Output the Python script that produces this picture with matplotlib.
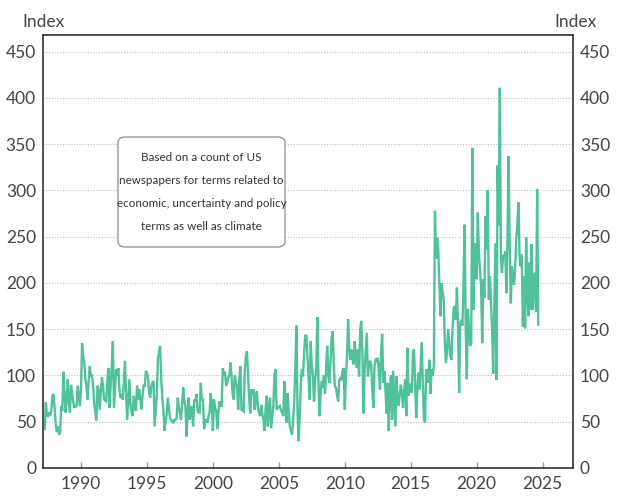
import numpy as np
import matplotlib
matplotlib.use("Agg")
import matplotlib.pyplot as plt
from matplotlib.patches import FancyBboxPatch

plt.rcParams['font.family'] = ['Lato', 'DejaVu Sans']

#### Monthly index values, April 1987 to September 2024 ####
start_year = 1987
start_month = 4

cpu_1987_1996 = [
    42, 71, 58, 55, 60, 57, 62, 78, 80,
    65, 48, 39, 45, 36, 38, 67, 62, 104, 80, 60, 75,
    96, 70, 60, 90, 80, 71, 65, 67, 67, 89, 78, 67,
    85, 135, 120, 114, 95, 89, 74, 95, 110, 100, 100, 89,
    70, 60, 51, 89, 85, 63, 80, 98, 90, 74, 73, 72,
    95, 108, 65, 90, 110, 137, 65, 85, 107, 100, 108, 85,
    76, 80, 74, 95, 116, 80, 52, 75, 96, 69, 60, 56,
    78, 71, 62, 89, 74, 85, 74, 63, 78, 90, 88, 105,
    103, 98, 80, 76, 89, 92, 94, 45, 62, 80, 119, 125,
    132, 96, 75, 63, 40, 50, 58, 76, 65, 54, 52, 50,
]
cpu_1997_2006 = [
    49, 52, 52, 54, 76, 66, 60, 52, 70, 87, 72, 67,
    34, 60, 76, 52, 62, 67, 45, 74, 72, 80, 63, 60,
    60, 92, 74, 74, 42, 52, 52, 49, 56, 60, 81, 70,
    40, 74, 65, 62, 42, 60, 72, 67, 67, 108, 100, 104,
    89, 93, 98, 100, 114, 99, 80, 74, 100, 92, 88, 63,
    95, 110, 63, 62, 61, 105, 120, 126, 100, 75, 59, 85,
    80, 85, 63, 75, 83, 65, 60, 56, 68, 58, 52, 40,
    65, 78, 45, 65, 76, 43, 55, 67, 100, 107, 63, 65,
    66, 67, 62, 60, 56, 94, 70, 49, 81, 60, 45, 40,
    36, 52, 72, 110, 154, 60, 29, 56, 90, 107, 99, 125,
]
cpu_2007_2016 = [
    143, 143, 120, 100, 74, 137, 110, 100, 72, 95, 107, 163,
    96, 56, 80, 94, 87, 100, 80, 108, 132, 100, 92, 116,
    140, 148, 110, 88, 87, 78, 72, 95, 97, 96, 105, 108,
    63, 100, 120, 161, 130, 117, 128, 118, 112, 137, 120, 108,
    128, 99, 150, 159, 125, 59, 105, 125, 146, 99, 110, 116,
    112, 85, 65, 110, 117, 116, 119, 105, 85, 125, 145, 92,
    105, 85, 59, 92, 40, 85, 100, 52, 105, 75, 45, 99,
    74, 67, 80, 90, 80, 65, 85, 96, 56, 130, 78, 90,
    90, 81, 125, 128, 90, 54, 85, 103, 85, 110, 136, 90,
    52, 49, 107, 92, 100, 117, 80, 107, 100, 110, 278, 226,
]
cpu_2017_2024 = [
    249, 236, 200, 164, 200, 190, 182, 136, 114, 125, 150, 135,
    121, 117, 150, 172, 175, 160, 195, 150, 81, 157, 160, 154,
    200, 263, 150, 96, 172, 150, 132, 135, 346, 171, 243, 225,
    204, 276, 233, 215, 196, 135, 204, 184, 272, 236, 300, 182,
    207, 180, 150, 102, 175, 243, 95, 327, 262, 411, 230, 211,
    229, 229, 234, 189, 250, 337, 240, 178, 218, 205, 198, 218,
    247, 265, 287, 229, 218, 231, 153, 207, 151, 249, 190, 164,
    222, 171, 242, 171, 200, 211, 169, 301, 155,
]

box_text = ("Based on a count of US\nnewspapers for terms related to\n"
            "economic, uncertainty and policy\nterms as well as climate")

values = np.array(cpu_1987_1996 + cpu_1997_2006 + cpu_2007_2016 + cpu_2017_2024)
dates = start_year + (start_month - 1 + np.arange(len(values))) / 12

#### Start plotting the graph ####
fig = plt.figure(figsize=(6.19, 5.00), dpi=100)
ax = fig.add_axes([43 / 619, 32 / 500, 530 / 619, 433 / 500])

ax.plot(dates, values, color='#4fc29c', linewidth=1.7, solid_joinstyle='miter')

ax.set_xlim(1987.12, 2027.3)
ax.set_ylim(0, 468)
ax.set_xticks(range(1990, 2026, 5))
ax.set_yticks(range(0, 451, 50))
ax.yaxis.grid(True, linestyle=(0, (1, 1.5)), color='#bbbbbb', linewidth=0.8)
ax.set_axisbelow(True)

text_col = '#444444'
ax.tick_params(axis='x', direction='in', length=4, width=1, color='#999999',
               labelsize=12.5, labelcolor=text_col, pad=6)
ax.tick_params(axis='y', length=0, labelsize=12.5, labelcolor=text_col, pad=5,
               labelleft=True, labelright=True)
for s in ax.spines.values():
    s.set_color('#222222')
    s.set_linewidth(1.1)

fig.text(43 / 619, 1 - 22 / 500, 'Index', ha='center', va='center',
         fontsize=12.5, color=text_col)
fig.text(575 / 619, 1 - 22 / 500, 'Index', ha='center', va='center',
         fontsize=12.5, color=text_col)

box = FancyBboxPatch((118 / 619, 1 - 247 / 500), 167 / 619, 110 / 500,
                     boxstyle='round,pad=0,rounding_size=0.012',
                     transform=fig.transFigure, facecolor='white',
                     edgecolor='#999999', linewidth=1.0, zorder=5)
fig.patches.append(box)
fig.text(201.5 / 619, 1 - 192 / 500, box_text, ha='center', va='center',
         fontsize=8.4, color='#333333', linespacing=2.35, zorder=6)

fig.savefig('out.png', dpi=100)
